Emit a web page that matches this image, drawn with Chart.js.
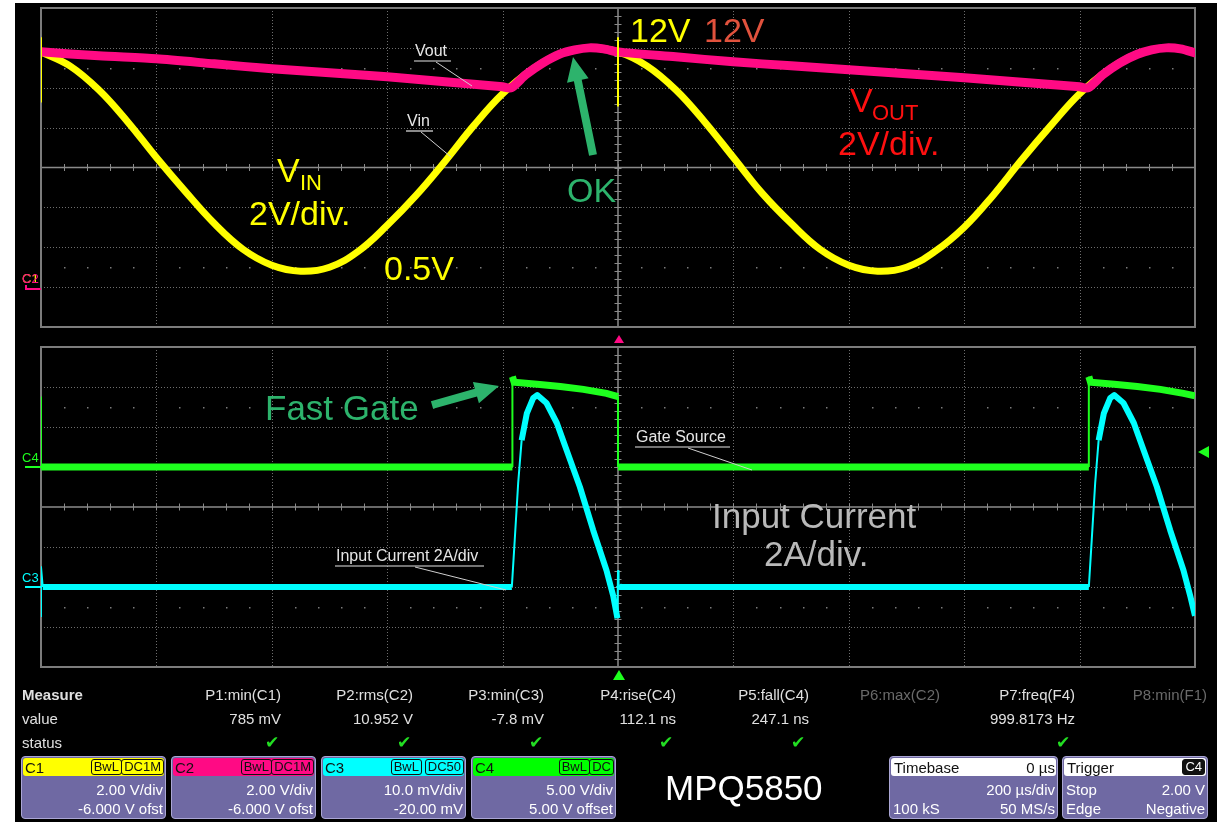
<!DOCTYPE html>
<html>
<head>
<meta charset="utf-8">
<title>MPQ5850</title>
<script src="https://cdn.jsdelivr.net/npm/chart.js@4.4.1/dist/chart.umd.min.js"></script>
<style>
html, body { margin: 0; padding: 0; background: #fff; }
body { position: relative; width: 1217px; height: 822px; overflow: hidden; font-family: "Liberation Sans", Arial, sans-serif; }
#scope { position: absolute; left: 15px; top: 3px; width: 1202px; height: 819px; background: #000; }
canvas { position: absolute; }
#topCanvas { left: 35px; top: 3px; width: 1170px; height: 330px; }
#botCanvas { left: 35px; top: 340px; width: 1170px; height: 335px; }
#overlay { position: absolute; left: 0; top: 0; }
.t { position: absolute; white-space: nowrap; line-height: 1; }
.box { position: absolute; top: 756px; height: 63px; background: #6f69a3; border: 1px solid #aaa6d4; border-radius: 4px; box-sizing: border-box; }
.hdr { position: absolute; left: 1px; right: 1px; top: 1px; height: 18px; border-radius: 3px; }
.badge { position: absolute; top: 1px; height: 14px; line-height: 14px; font-size: 13px; padding: 0 2px; border: 1.5px solid #111; border-radius: 3px; color: #111; }
</style>
</head>
<body>
<div id="scope"></div>
<canvas id="topCanvas" width="1170" height="330"></canvas>
<canvas id="botCanvas" width="1170" height="335"></canvas>
<svg id="overlay" width="1217" height="822"></svg>
<script>
// values, time in µs (200 µs/div, 0 at the centre)

// C1 Vin, volts
const vinTime = [-1000, -950, -900, -850, -800, -750, -700, -650, -600, -550, -500, -450, -400, -350, -300, -250, -200, -150, -100, -50,
  0, 50, 100, 150, 200, 250, 300, 350, 400, 450, 500, 550, 600, 650, 700, 750, 800, 850, 900, 950, 1000];
const vinVolts = [11.8, 11.1, 9.9, 8.3, 6.5, 4.8, 3.2, 1.9, 1.1, 0.8, 1.0, 1.8, 3.1, 4.6, 6.3, 8.1, 9.7, 10.9, 11.7, 12.0,
  11.8, 11.1, 9.9, 8.3, 6.5, 4.7, 3.2, 1.9, 1.1, 0.8, 1.0, 1.8, 3.0, 4.6, 6.4, 8.1, 9.7, 10.9, 11.7, 12.0, 11.8];
// short vertical blips of the C1 trace at the screen start and at the trigger point
const vinBlipTime = [-1000, -1000, -1000, 0, 0];
const vinBlipVolts = [12.5, 9.3, null, 12.5, 9.1];

// C2 Vout, volts
const voutTime = [-1000, -900, -800, -700, -600, -500, -400, -300, -200, -185, -160, -130, -100, -75, -50, -25,
  0, 100, 200, 300, 400, 500, 600, 700, 800, 815, 840, 870, 900, 925, 950, 975, 1000];
const voutVolts = [11.8, 11.6, 11.45, 11.2, 10.95, 10.75, 10.55, 10.3, 10.05, 10.0, 10.65, 11.25, 11.7, 11.9, 12.0, 11.95,
  11.8, 11.55, 11.3, 11.1, 10.9, 10.7, 10.5, 10.28, 10.05, 10.0, 10.65, 11.25, 11.68, 11.9, 12.0, 11.95, 11.75];

// C4 gate-source, volts
const gateTime = [-1000, -1000, -183, -183, -180, -140, -100, -60, -20, 0, 0, 816, 816, 819, 860, 900, 940, 980, 1000];
const gateVolts = [8.8, 0, 0, 11.3, 10.6, 10.35, 10.05, 9.7, 9.2, 8.8, 0, 0, 11.3, 10.6, 10.35, 10.05, 9.7, 9.2, 8.9];

// C3 input current (shunt), mV  (10 mV/div = 2 A/div)
const currTime = [-1000, -1000, -997, -184, -179, -173, -167, -158, -147, -140, -124, -106, -89, -66, -43, -20, -8, -1, 0, 1, 3,
  816, 821, 827, 833, 842, 853, 860, 876, 894, 911, 934, 957, 980, 992, 1000];
const currMv = [-7.5, 5, 0, 0, 11.7, 26, 36.7, 43.4, 47.2, 48, 46, 41, 34.2, 25, 14.2, 4.2, -2.4, -7.8, 4, 0.5, 0,
  0, 11.7, 26, 36.7, 43.4, 47.2, 48, 46, 41, 34.2, 25, 14.2, 4.2, -2.4, -7.2];

// measurement table
const measNames = ['P1:min(C1)', 'P2:rms(C2)', 'P3:min(C3)', 'P4:rise(C4)', 'P5:fall(C4)', 'P6:max(C2)', 'P7:freq(F4)', 'P8:min(F1)'];
const measValues = ['785 mV', '10.952 V', '-7.8 mV', '112.1 ns', '247.1 ns', '', '999.8173 Hz', ''];
const measOn = [true, true, true, true, true, false, true, false];

// channel descriptors
const chanNames = ['C1', 'C2', 'C3', 'C4'];
const chanColors = ['#ffff00', '#ff0a84', '#00ffff', '#00ff00'];
const chanBadges = [['BwL', 'DC1M'], ['BwL', 'DC1M'], ['BwL', 'DC50'], ['BwL', 'DC']];
const chanScale = ['2.00 V/div', '2.00 V/div', '10.0 mV/div', '5.00 V/div'];
const chanOffset = ['-6.000 V ofst', '-6.000 V ofst', '-20.00 mV', '5.00 V offset'];

const YELLOW = '#ffff00', PINK = '#ff0a84', CYAN = '#00ffff', GREEN = '#1eff1e';
const NOTE_GREEN = '#2db36c';

function pts(xs, ys) {
  return xs.map((x, i) => ({ x: x, y: ys[i] }));
}

// oscilloscope graticule: 10 x 8 divisions, dotted grid, solid centre cross with minor ticks
const graticule = {
  id: 'graticule',
  beforeDatasetsDraw(chart) {
    const ctx = chart.ctx, a = chart.chartArea;
    const dx = (a.right - a.left) / 10, dy = (a.bottom - a.top) / 8;
    const cx = a.left + 5 * dx, cy = a.top + 4 * dy;
    ctx.save();
    ctx.strokeStyle = '#6e6e6e';
    ctx.lineWidth = 1;
    ctx.setLineDash([1, 2]);
    for (let i = 1; i < 10; i++) {
      if (i === 5) continue;
      const x = Math.round(a.left + i * dx) + 0.5;
      ctx.beginPath(); ctx.moveTo(x, a.top); ctx.lineTo(x, a.bottom); ctx.stroke();
    }
    for (let j = 1; j < 8; j++) {
      if (j === 4) continue;
      const y = Math.round(a.top + j * dy) + 0.5;
      ctx.beginPath(); ctx.moveTo(a.left, y); ctx.lineTo(a.right, y); ctx.stroke();
    }
    ctx.setLineDash([]);
    // rows of dots 2.5 div above and below centre
    ctx.fillStyle = '#7a7a7a';
    for (let k = 1; k < 50; k++) {
      if (k % 5 === 0) continue;
      const x = Math.round(a.left + k * dx / 5);
      ctx.fillRect(x, Math.round(cy - 2.5 * dy), 1.5, 1.5);
      ctx.fillRect(x, Math.round(cy + 2.5 * dy), 1.5, 1.5);
    }
    // centre cross
    ctx.strokeStyle = '#8a8a8a';
    ctx.lineWidth = 1.5;
    ctx.beginPath();
    ctx.moveTo(a.left, cy); ctx.lineTo(a.right, cy);
    ctx.moveTo(cx, a.top); ctx.lineTo(cx, a.bottom);
    ctx.stroke();
    ctx.lineWidth = 1;
    ctx.beginPath();
    for (let k = 1; k < 50; k++) {
      const x = Math.round(a.left + k * dx / 5) + 0.5;
      ctx.moveTo(x, cy - 3.5); ctx.lineTo(x, cy + 3.5);
    }
    for (let k = 1; k < 40; k++) {
      const y = Math.round(a.top + k * dy / 5) + 0.5;
      ctx.moveTo(cx - 3.5, y); ctx.lineTo(cx + 3.5, y);
    }
    ctx.stroke();
    // frame
    ctx.strokeStyle = '#7c7c7c';
    ctx.lineWidth = 2;
    ctx.strokeRect(a.left, a.top, a.right - a.left, a.bottom - a.top);
    ctx.restore();
  }
};

// steep edges of a trace are drawn thin, flat noisy parts thick
function traceWidth(thick) {
  return c => {
    const dx = Math.abs(c.p1.x - c.p0.x), dy = Math.abs(c.p1.y - c.p0.y);
    return dy > 6 * dx ? 2 : thick;
  };
}

const baseOptions = (padding, yScales) => ({
  responsive: false,
  animation: false,
  layout: { padding: padding },
  plugins: { legend: { display: false }, tooltip: { enabled: false } },
  elements: { point: { radius: 0 }, line: { borderJoinStyle: 'round', borderCapStyle: 'round' } },
  scales: Object.assign({ x: { type: 'linear', min: -1000, max: 1000, display: false } }, yScales)
});

// top screen: C1 and C2, both 2 V/div with -6 V offset (centre = 6 V)
new Chart(document.getElementById('topCanvas').getContext('2d'), {
  type: 'line',
  data: {
    datasets: [
      { label: 'Vin blip', data: pts(vinBlipTime, vinBlipVolts), borderColor: YELLOW, borderWidth: 2, borderCapStyle: 'butt', tension: 0, spanGaps: false },
      { label: 'Vout', data: pts(voutTime, voutVolts), borderColor: PINK, borderWidth: 9, tension: 0.25 },
      { label: 'Vin', data: pts(vinTime, vinVolts), borderColor: YELLOW, borderWidth: 7, tension: 0.4 }
    ]
  },
  options: baseOptions({ left: 6, right: 10, top: 5, bottom: 6 }, { y: { min: -2, max: 14, display: false } }),
  plugins: [graticule]
});

// bottom screen: C4 5 V/div (centre -5 V), C3 10 mV/div (centre 20 mV)
new Chart(document.getElementById('botCanvas').getContext('2d'), {
  type: 'line',
  data: {
    datasets: [
      { label: 'Input current', data: pts(currTime, currMv), yAxisID: 'yI', borderColor: CYAN, borderWidth: 6, tension: 0,
        borderCapStyle: 'butt', segment: { borderWidth: traceWidth(6) } },
      { label: 'Gate source', data: pts(gateTime, gateVolts), yAxisID: 'yG', borderColor: GREEN, borderWidth: 7, tension: 0,
        borderCapStyle: 'butt', borderJoinStyle: 'miter', segment: { borderWidth: traceWidth(7) } }
    ]
  },
  options: baseOptions({ left: 6, right: 10, top: 7, bottom: 8 }, {
    yG: { min: -25, max: 15, display: false },
    yI: { min: -20, max: 60, display: false }
  }),
  plugins: [graticule]
});

// ---------- text and annotations ----------
function addText(txt, x, base, size, color, opts) {
  opts = opts || {};
  const d = document.createElement('div');
  d.className = 't';
  d.textContent = txt;
  d.style.fontSize = size + 'px';
  d.style.color = color;
  d.style.top = (base - 0.85 * size) + 'px';
  if (opts.align === 'right') {
    d.style.left = (x - 400) + 'px'; d.style.width = '400px'; d.style.textAlign = 'right';
  } else if (opts.align === 'center') {
    d.style.left = (x - 200) + 'px'; d.style.width = '400px'; d.style.textAlign = 'center';
  } else {
    d.style.left = x + 'px';
  }
  if (opts.bold) d.style.fontWeight = 'bold';
  (opts.parent || document.body).appendChild(d);
  return d;
}

const svg = document.getElementById('overlay');
function svgEl(tag, attrs) {
  const e = document.createElementNS('http://www.w3.org/2000/svg', tag);
  for (const k in attrs) e.setAttribute(k, attrs[k]);
  svg.appendChild(e);
  return e;
}
function line(x0, y0, x1, y1, color, w) {
  svgEl('line', { x1: x0, y1: y0, x2: x1, y2: y1, stroke: color, 'stroke-width': w });
}
function arrow(x0, y0, x1, y1, shaft, headLen, headW, color) {
  const L = Math.hypot(x1 - x0, y1 - y0), ux = (x1 - x0) / L, uy = (y1 - y0) / L, px = -uy, py = ux;
  const bx = x1 - ux * headLen, by = y1 - uy * headLen;
  const p = [
    [x0 + px * shaft / 2, y0 + py * shaft / 2], [bx + px * shaft / 2, by + py * shaft / 2],
    [bx + px * headW / 2, by + py * headW / 2], [x1, y1], [bx - px * headW / 2, by - py * headW / 2],
    [bx - px * shaft / 2, by - py * shaft / 2], [x0 - px * shaft / 2, y0 - py * shaft / 2]
  ];
  svgEl('polygon', { points: p.map(q => q.join(',')).join(' '), fill: color });
}
function tri(points, color) {
  svgEl('polygon', { points: points, fill: color });
}

// big slide annotations
addText('12V', 630, 42, 34, YELLOW);
addText('12V', 704, 42, 34, '#e1523d');
addText('V', 277, 182, 34, YELLOW);
addText('IN', 300, 191, 22, YELLOW);
addText('2V/div.', 249, 225, 34, YELLOW);
addText('0.5V', 384, 280, 34, YELLOW);
addText('OK', 567, 202, 34, NOTE_GREEN);
addText('V', 850, 112, 34, '#ff1010');
addText('OUT', 872, 121, 22, '#ff1010');
addText('2V/div.', 838, 155, 34, '#ff1010');
addText('Fast Gate', 265, 420, 35, NOTE_GREEN);
addText('Input Current', 712, 528, 35, '#b9b9b9');
addText('2A/div.', 764, 566, 35, '#b9b9b9');
addText('MPQ5850', 665, 800, 35, '#ffffff');
arrow(593, 155, 573, 57, 8, 24, 22, NOTE_GREEN);
arrow(432, 405, 499, 386, 8, 24, 22, NOTE_GREEN);

// small scope labels with leader lines
addText('Vout', 415, 57, 16, '#e6e6e6');
line(414, 61, 451, 61, '#e6e6e6', 1.2);
line(436, 62, 472, 86, '#d0d0d0', 1);
addText('Vin', 407, 127, 16, '#e6e6e6');
line(406, 131, 433, 131, '#e6e6e6', 1.2);
line(421, 132, 451, 157, '#d0d0d0', 1);
addText('Gate Source', 636, 443, 16, '#e6e6e6');
line(635, 447, 730, 447, '#e6e6e6', 1.2);
line(688, 448, 752, 470, '#d0d0d0', 1);
addText('Input Current 2A/div', 336, 562, 16, '#e6e6e6');
line(335, 566, 484, 566, '#e6e6e6', 1.2);
line(415, 567, 506, 590, '#d0d0d0', 1);

// channel ground markers and trigger markers
addText('C1', 22, 283, 13, YELLOW);
addText('C2', 22, 283, 13, PINK);
line(26, 289, 41, 289, PINK, 2);
line(26, 285, 26, 290, PINK, 2);
addText('C4', 22, 462, 13, GREEN);
line(25, 467, 41, 467, GREEN, 2);
addText('C3', 22, 582, 13, CYAN);
line(25, 587, 41, 587, CYAN, 2);
tri('614,343 619,335 624,343', PINK);
tri('613,680 619,670 625,680', GREEN);
tri('1198,452 1209,446 1209,458', GREEN);

// measurement rows
const measRight = [281, 413, 544, 676, 809, 940, 1075, 1207];
const checkX = [272, 404, 536, 666, 798, null, 1063, null];
addText('Measure', 22, 700, 15, '#e0e0e0', { bold: true });
addText('value', 22, 724, 15, '#e0e0e0');
addText('status', 22, 748, 15, '#e0e0e0');
measNames.forEach((n, i) => {
  addText(n, measRight[i], 700, 15, measOn[i] ? '#e0e0e0' : '#6a6a6a', { align: 'right' });
  if (measValues[i]) addText(measValues[i], measRight[i], 724, 15, '#e0e0e0', { align: 'right' });
  if (checkX[i]) addText('\u2714', checkX[i], 748, 17, '#22dd22', { align: 'center' });
});

// channel boxes
const boxLeft = [21, 171, 321, 471];
chanNames.forEach((n, i) => {
  const b = document.createElement('div');
  b.className = 'box';
  b.style.left = boxLeft[i] + 'px';
  b.style.width = '145px';
  const h = document.createElement('div');
  h.className = 'hdr';
  h.style.background = chanColors[i];
  b.appendChild(h);
  addText(n, 2, 15, 15, '#111', { parent: h });
  let r = 0;
  chanBadges[i].slice().reverse().forEach(t => {
    const g = document.createElement('div');
    g.className = 'badge';
    g.textContent = t;
    g.style.right = r + 'px';
    h.appendChild(g);
    r += t.length * 9 + 6;
  });
  addText(chanScale[i], 141, 38, 15, '#ffffff', { align: 'right', parent: b });
  addText(chanOffset[i], 141, 57, 15, '#ffffff', { align: 'right', parent: b });
  document.body.appendChild(b);
});

// timebase and trigger boxes
function infoBox(left, width, title, titleRight, badge, rows) {
  const b = document.createElement('div');
  b.className = 'box';
  b.style.left = left + 'px';
  b.style.width = width + 'px';
  const h = document.createElement('div');
  h.className = 'hdr';
  h.style.background = '#ffffff';
  b.appendChild(h);
  addText(title, 3, 15, 15, '#111', { parent: h });
  if (badge) {
    const g = document.createElement('div');
    g.className = 'badge';
    g.style.background = '#111';
    g.style.color = '#fff';
    g.style.right = '1px';
    g.textContent = badge;
    h.appendChild(g);
  } else {
    addText(titleRight, width - 5, 15, 15, '#111', { align: 'right', parent: h });
  }
  rows.forEach((row, k) => {
    if (row[0]) addText(row[0], 3, 38 + k * 19, 15, '#ffffff', { parent: b });
    addText(row[1], width - 4, 38 + k * 19, 15, '#ffffff', { align: 'right', parent: b });
  });
  document.body.appendChild(b);
}
infoBox(889, 169, 'Timebase', '0 \u00b5s', null, [['', '200 \u00b5s/div'], ['100 kS', '50 MS/s']]);
infoBox(1062, 146, 'Trigger', '', 'C4', [['Stop', '2.00 V'], ['Edge', 'Negative']]);
</script>
</body>
</html>
